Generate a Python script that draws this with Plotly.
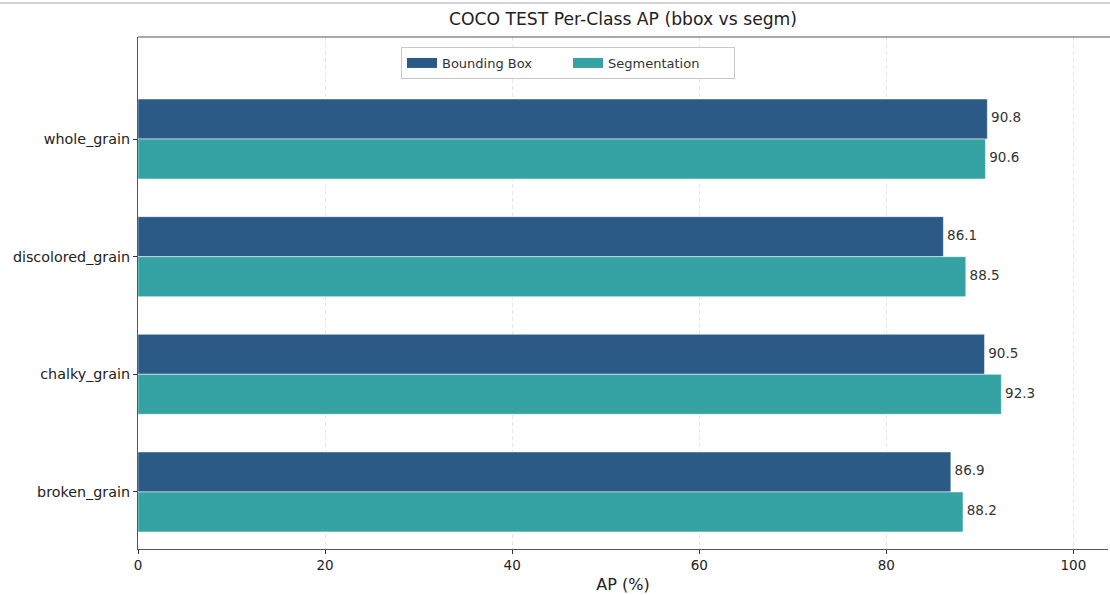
import plotly.graph_objects as go

categories = ["broken_grain", "chalky_grain", "discolored_grain", "whole_grain"]
bbox_ap = [86.9, 90.5, 86.1, 90.8]
segm_ap = [88.2, 92.3, 88.5, 90.6]
x_ticks = [0, 20, 40, 60, 80, 100]

BBOX_COLOR = "#2b5a86"
SEGM_COLOR = "#35a3a3"
FONT = "DejaVu Sans"
BAR_W = 0.34

pos = list(range(len(categories)))

fig = go.Figure()
fig.add_trace(go.Bar(
    y=pos, x=bbox_ap, orientation="h", name="Bounding Box", showlegend=False,
    width=BAR_W, offset=0, marker=dict(color=BBOX_COLOR, line=dict(color="rgba(255,255,255,0.5)", width=1)),
    hoverinfo="x",
))
fig.add_trace(go.Bar(
    y=pos, x=segm_ap, orientation="h", name="Segmentation", showlegend=False,
    width=BAR_W, offset=-BAR_W, marker=dict(color=SEGM_COLOR, line=dict(color="rgba(255,255,255,0.5)", width=1)),
    hoverinfo="x",
))
# legend entries (wide rectangle swatches like matplotlib)
for name, col in [("Bounding Box", BBOX_COLOR), ("Segmentation", SEGM_COLOR)]:
    fig.add_trace(go.Scatter(x=[None], y=[None], mode="lines", name=name,
                             line=dict(color=col, width=10), hoverinfo="skip"))
# value labels
fig.add_trace(go.Scatter(
    x=[v + 0.4 for v in bbox_ap], y=[p + BAR_W / 2 for p in pos], mode="text",
    text=[f"{v:.1f}" for v in bbox_ap], textposition="middle right",
    textfont=dict(family=FONT, size=13.5, color="#333333"), showlegend=False, hoverinfo="skip",
))
fig.add_trace(go.Scatter(
    x=[v + 0.4 for v in segm_ap], y=[p - BAR_W / 2 for p in pos], mode="text",
    text=[f"{v:.1f}" for v in segm_ap], textposition="middle right",
    textfont=dict(family=FONT, size=13.5, color="#333333"), showlegend=False, hoverinfo="skip",
))

W, H = 1110, 595
ml, mr, mt, mb = 138, 2, 37, 46
plot_h = H - mt - mb
plot_w = W - ml - mr

fig.update_layout(
    width=W, height=H,
    margin=dict(l=ml, r=mr, t=mt, b=mb, pad=0, autoexpand=False),
    plot_bgcolor="white", paper_bgcolor="white",
    barmode="overlay",
    font=dict(family=FONT, size=13, color="#222222"),
    title=dict(text="COCO TEST Per-Class AP (bbox vs segm)", x=(ml + plot_w / 2) / W, xanchor="center",
               y=1 - 19 / H, yanchor="middle", font=dict(family=FONT, size=17.2, color="#222222")),
    legend=dict(
        orientation="h",
        x=(401 - ml) / plot_w, y=1 - (47 - mt) / plot_h, xanchor="left", yanchor="top",
        bgcolor="white", bordercolor="#c8c8c8", borderwidth=1,
        font=dict(family=FONT, size=13, color="#333333"),
        itemwidth=30, entrywidth=121, tracegroupgap=0, traceorder="normal",
    ),
    xaxis=dict(
        range=[0, 103.7], tickvals=x_ticks, ticktext=[str(t) for t in x_ticks],
        showgrid=True, gridcolor="rgba(170,170,170,0.3)", griddash="4px,3px", gridwidth=1,
        showline=True, linecolor="#555555", linewidth=1.2,
        ticks="outside", ticklen=4, tickcolor="#333333", automargin=False,
        zeroline=False, tickfont=dict(family=FONT, size=13.5, color="#222222"),
        title=dict(text="AP (%)", font=dict(family=FONT, size=16, color="#222222"), standoff=6),
    ),
    yaxis=dict(
        range=[-0.485, 3.867], tickvals=pos, ticktext=categories,
        showgrid=False, zeroline=False, automargin=False,
        showline=True, linecolor="#555555", linewidth=1.2,
        ticks="outside", ticklen=4, tickcolor="#333333",
        tickfont=dict(family=FONT, size=14.3, color="#222222"),
    ),
    shapes=[
        dict(type="line", xref="paper", yref="paper", x0=0, x1=1.01, y0=1, y1=1,
             line=dict(color="#555555", width=1.2)),
        dict(type="line", xref="paper", yref="paper", x0=-ml / plot_w, x1=1 + mr / plot_w,
             y0=1 + (mt - 3) / plot_h, y1=1 + (mt - 3) / plot_h,
             line=dict(color="#d4d4d4", width=2)),
    ],
)

fig.write_html("out.html", config={"displayModeBar": False},
               post_script="document.body.style.margin='0';document.body.style.padding='0';")
